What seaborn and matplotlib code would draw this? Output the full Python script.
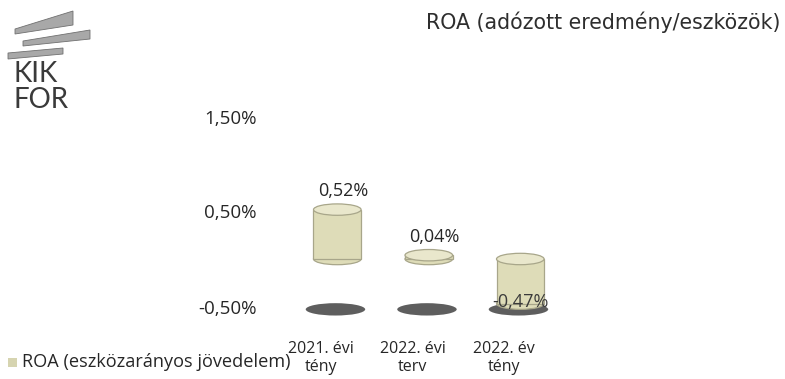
import matplotlib
matplotlib.use("Agg")
import matplotlib.pyplot as plt
import matplotlib.transforms as mtransforms
from matplotlib.patches import Ellipse, Polygon, Rectangle
import seaborn as sns
import pandas as pd

categories = ["2021. évi\ntény", "2022. évi\nterv", "2022. év\ntény"]
roa_values = [0.52, 0.04, -0.47]
y_ticks = [-0.5, 0.5, 1.5]
y_tick_labels = ["-0,50%", "0,50%", "1,50%"]
series_name = "ROA (eszközarányos jövedelem)"
title = "ROA (adózott eredmény/eszközök)"

sns.set_theme(style="white")
plt.rcParams["font.family"] = ["Open Sans", "DejaVu Sans"]

bar_color = "#dedcb8"
edge_color = "#a8a68a"
top_color = "#e9e7cc"
text_color = "#262626"

df = pd.DataFrame({"cat": categories, "roa": roa_values})

W, H = 785, 379
fig = plt.figure(figsize=(7.85, 3.79), dpi=100)
ax_left, ax_right, ax_top, ax_bot = 265, 593.5, 116.5, 325.5
ax = fig.add_axes([ax_left / W, 1 - ax_bot / H, (ax_right - ax_left) / W, (ax_bot - ax_top) / H])

sns.barplot(data=df, x="cat", y="roa", color=bar_color, width=0.52,
            edgecolor=edge_color, linewidth=0.9, saturation=1, ax=ax, zorder=3)

ell_h = 0.12
bars = list(ax.patches)
for bar, v in zip(bars, roa_values):
    x0 = bar.get_x()
    w = bar.get_width()
    cx = x0 + w / 2
    upper = max(v, 0)
    lower = min(v, 0)
    # shadow on the "floor"
    ax.add_patch(Ellipse((cx - 0.02, -0.53), w * 1.25, 0.13, facecolor="#505050",
                         edgecolor="none", alpha=0.92, zorder=1))
    # bottom cap of cylinder
    ax.add_patch(Ellipse((cx, lower), w, ell_h, facecolor=bar_color,
                         edgecolor=edge_color, linewidth=0.9, zorder=2))
    # top cap of cylinder
    ax.add_patch(Ellipse((cx, upper), w, ell_h, facecolor=top_color,
                         edgecolor=edge_color, linewidth=0.9, zorder=4))
    lab = f"{v:.2f}%".replace(".", ",")
    if v >= 0:
        ax.text(cx + 0.06, v + 0.1, lab, ha="center", va="bottom", fontsize=13,
                color=text_color, zorder=5)
    else:
        ax.text(cx, v + 0.02, lab, ha="center", va="center", fontsize=13,
                color="#3a3a3a", zorder=5)

ax.set_xlim(-0.79, 2.8)
ax.set_ylim(-0.7, 1.5)
ax.set_yticks(y_ticks)
ax.set_yticklabels(y_tick_labels)
ax.set_xlabel("")
ax.set_ylabel("")
ax.tick_params(axis="y", labelsize=13.5, labelcolor=text_color, length=0, pad=6)
ax.tick_params(axis="x", labelsize=11.5, labelcolor=text_color, length=0, pad=11)
shift = mtransforms.ScaledTranslation(-16 / 100, 0, fig.dpi_scale_trans)
for lbl in ax.get_xticklabels():
    lbl.set_linespacing(1.15)
    lbl.set_transform(lbl.get_transform() + shift)
for s in ax.spines.values():
    s.set_visible(False)

# legend
fig.patches.append(Rectangle((8 / W, 1 - 367 / H), 9 / W, 9 / H,
                             transform=fig.transFigure, facecolor="#d6d4b0",
                             edgecolor="none"))
fig.text(22 / W, 1 - 362 / H, series_name, fontsize=13.1, color=text_color,
         va="center", ha="left")

# title
fig.text(780 / W, 1 - 22 / H, title, fontsize=14.8, color="#2e2e2e",
         ha="right", va="center", family=["DejaVu Sans"])

# logo
logo_grey = "#a8a8a8"
polys = [
    [(15, 29), (73, 11), (73, 25), (15, 34)],
    [(23, 41), (90, 30), (90, 39), (23, 46)],
    [(8, 53), (63, 48), (63, 54), (8, 59)],
]
for p in polys:
    pts = [(x / W, 1 - y / H) for x, y in p]
    fig.patches.append(Polygon(pts, closed=True, transform=fig.transFigure,
                               facecolor=logo_grey, edgecolor="#707070", linewidth=0.6))
fig.text(13 / W, 1 - 74 / H, "KIK", fontsize=20, color="#3a3a3a",
         va="center", ha="left", family=["Lato", "DejaVu Sans"])
fig.text(13 / W, 1 - 100 / H, "FOR", fontsize=20, color="#3a3a3a",
         va="center", ha="left", family=["Lato", "DejaVu Sans"])

fig.savefig("out.png", dpi=100, facecolor="white")
